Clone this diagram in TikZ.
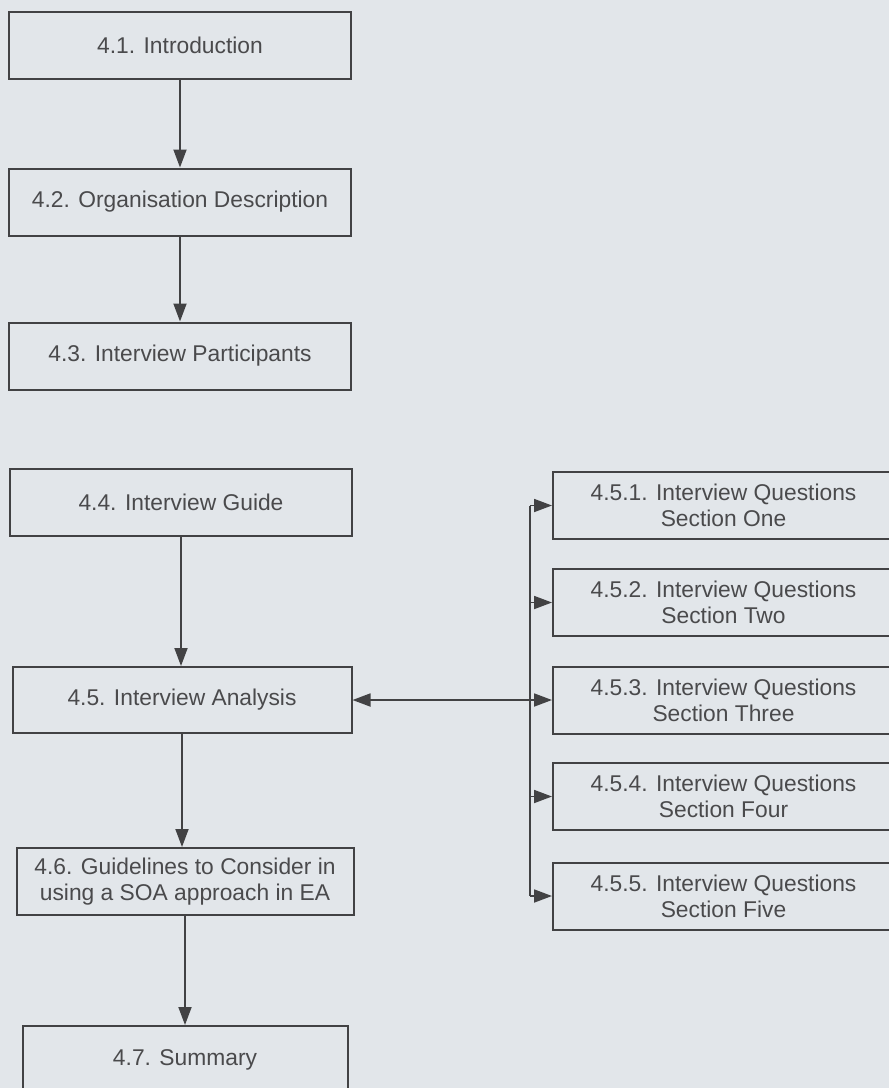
\documentclass[tikz,border=0pt]{standalone}
\usepackage{fontspec}
\setmainfont{Liberation Sans}
\usetikzlibrary{arrows.meta}
\definecolor{paper}{RGB}{226,230,234}
\definecolor{ink}{RGB}{66,66,68}
\definecolor{txt}{RGB}{74,74,76}
\begin{document}
\begin{tikzpicture}[x=1pt,y=-1pt,
  sect/.style={draw=ink, line width=2pt, fill=paper, rectangle, inner sep=0pt,
    minimum height=67pt, align=center, text=txt,
    font=\fontsize{22.8}{26}\selectfont},
  head/.tip={Triangle[length=18pt,width=13pt]},
  flow/.style={draw=ink, line width=1.8pt, -head},
  flow2/.style={draw=ink, line width=1.8pt, head-head},
  bus/.style={draw=ink, line width=1.8pt}]
  \useasboundingbox[fill=paper] (0,0) rectangle (889,1088);

  % main chapter sequence
  \node[sect, minimum width=342pt] (s1) at (180,45)    {4.1. Introduction};
  \node[sect, minimum width=342pt] (s2) at (180,202)   {4.2. Organisation Description};
  \node[sect, minimum width=342pt] (s3) at (180,356)   {4.3. Interview Participants};
  \node[sect, minimum width=342pt] (s4) at (181,502)   {4.4. Interview Guide};
  \node[sect, minimum width=339pt, minimum height=66pt] (s5) at (182,700) {4.5. Interview Analysis};
  \node[sect, minimum width=337pt] (s6) at (185,881.5) {4.6. Guidelines to Consider in\\using a SOA approach in EA};
  \node[sect, minimum width=325pt, minimum height=68pt] (s7) at (185,1060) {4.7. Summary};

  % analysis subsections
  \node[sect, minimum width=341pt] (q1) at (723.5,505.5) {4.5.1. Interview Questions\\Section One};
  \node[sect, minimum width=341pt] (q2) at (723.5,602.5) {4.5.2. Interview Questions\\Section Two};
  \node[sect, minimum width=341pt] (q3) at (723.5,700)   {4.5.3. Interview Questions\\Section Three};
  \node[sect, minimum width=341pt] (q4) at (723.5,796.5) {4.5.4. Interview Questions\\Section Four};
  \node[sect, minimum width=341pt] (q5) at (723.5,896)   {4.5.5. Interview Questions\\Section Five};

  % vertical flow
  \draw[flow] (s1.south) -- (s1.south |- s2.north);
  \draw[flow] (s2.south) -- (s2.south |- s3.north);
  \draw[flow] (s4.south) -- (s4.south |- s5.north);
  \draw[flow] (s5.south) -- (s5.south |- s6.north);
  \draw[flow] (s6.south) -- (s6.south |- s7.north);

  % distribution bus to the subsections
  \coordinate (j1) at (530,505.5);
  \coordinate (j2) at (530,602.5);
  \coordinate (j4) at (530,796.5);
  \coordinate (j5) at (530,896);
  \draw[bus] (j1) -- (j5);
  \draw[flow2] (s5.east) -- (q3.west);
  \draw[flow] (j1) -- (q1.west);
  \draw[flow] (j2) -- (q2.west);
  \draw[flow] (j4) -- (q4.west);
  \draw[flow] (j5) -- (q5.west);
\end{tikzpicture}
\end{document}
